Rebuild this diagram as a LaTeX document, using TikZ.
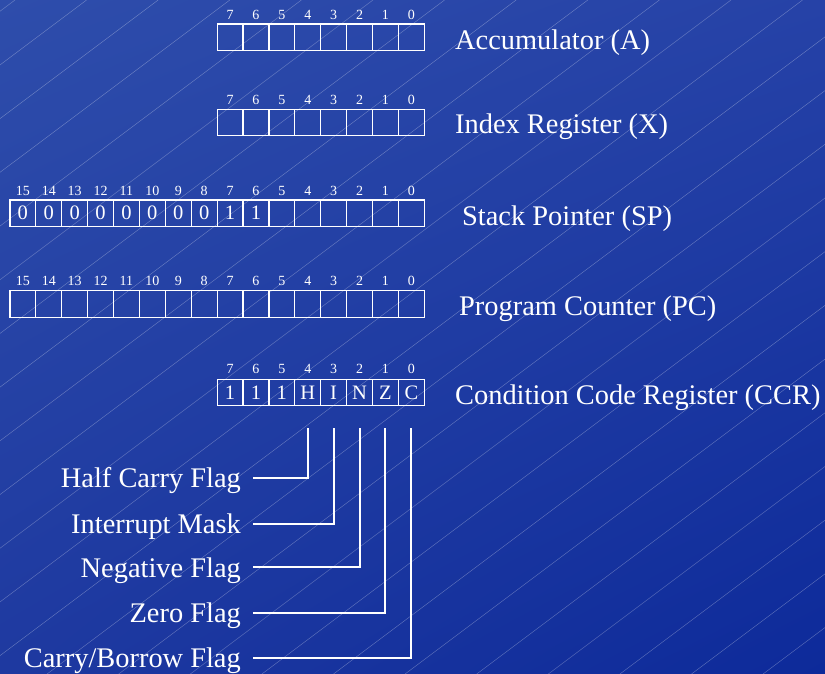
\documentclass[tikz,border=0pt]{standalone}
\usepackage{fontspec}
\setmainfont{Liberation Serif}
\usetikzlibrary{calc,shadings}
\definecolor{bgTL}{RGB}{46,77,171}
\definecolor{bgTR}{RGB}{38,66,167}
\definecolor{bgBL}{RGB}{30,57,160}
\definecolor{bgBR}{RGB}{13,42,154}
\tikzset{
  cell/.style={draw=white, line width=1.2pt, minimum width=25.9pt, minimum height=26.3pt, inner sep=0pt, font=\fontsize{20.5}{20.5}\selectfont, text=white},
  bitnum/.style={font=\fontsize{14}{14}\selectfont, text=white, inner sep=0pt},
  reglabel/.style={font=\fontsize{28.4}{30}\selectfont, text=white, anchor=base west, inner sep=0pt},
  flaglabel/.style={font=\fontsize{28.4}{30}\selectfont, text=white, anchor=base east, inner sep=0pt},
  wire/.style={draw=white, line width=2pt},
  diag/.style={draw=white, draw opacity=0.3, line width=0.45pt}
}
\begin{document}
\begin{tikzpicture}[x=1pt,y=-1pt]
\useasboundingbox (0,0) rectangle (825,674);
\shade[upper left=bgTL, upper right=bgTR, lower left=bgBL, lower right=bgBR] (0,0) rectangle (825,674);
\begin{scope}
  \clip (0,0) rectangle (825,674);
  \foreach \k in {0,...,24}
    \draw[diag] ({15+71.6*\k},0) -- ({15+71.6*\k-898.7},674);
\end{scope}
% Accumulator
\foreach \i in {0,...,7} {
  \node[cell] (A\i) at ({424.3-25.9*(\i+0.5)},37.15) {};
  \node[bitnum] (An\i) at ({424.3-25.9*(\i+0.5)},14.5) {\i};
}
\node[reglabel] (Alab) at (455,49.5) {Accumulator (A)};
% Index register
\foreach \i in {0,...,7} {
  \node[cell] (X\i) at ({424.3-25.9*(\i+0.5)},122.5) {};
  \node[bitnum] (Xn\i) at ({424.3-25.9*(\i+0.5)},100) {\i};
}
\node[reglabel] (Xlab) at (455,134) {Index Register (X)};
% Stack pointer
\foreach \i/\t in {15/0,14/0,13/0,12/0,11/0,10/0,9/0,8/0,7/1,6/1,5/,4/,3/,2/,1/,0/} {
  \node[cell] (S\i) at ({424.3-25.9*(\i+0.5)},213.15) {\t};
  \node[bitnum] (Sn\i) at ({424.3-25.9*(\i+0.5)},191) {\i};
}
\node[reglabel] (Slab) at (462,225) {Stack Pointer (SP)};
% Program counter
\foreach \i in {0,...,15} {
  \node[cell] (P\i) at ({424.3-25.9*(\i+0.5)},304) {};
  \node[bitnum] (Pn\i) at ({424.3-25.9*(\i+0.5)},280.5) {\i};
}
\node[reglabel] (Plab) at (459,315) {Program Counter (PC)};
% CCR
\foreach \i/\t in {7/1,6/1,5/1,4/H,3/I,2/N,1/Z,0/C} {
  \node[cell] (C\i) at ({424.3-25.9*(\i+0.5)},392.5) {\t};
  \node[bitnum] (Cn\i) at ({424.3-25.9*(\i+0.5)},368.5) {\i};
}
\node[reglabel] (Clab) at (455,404.5) {Condition Code Register (CCR)};
% Flag labels
\node[flaglabel] (hf) at (241,487) {Half Carry Flag};
\node[flaglabel] (im) at (241,533) {Interrupt Mask};
\node[flaglabel] (nf) at (241,577) {Negative Flag};
\node[flaglabel] (zf) at (241,622) {Zero Flag};
\node[flaglabel] (cf) at (241,667) {Carry/Borrow Flag};
% connector ends
\coordinate (hfL) at (253,478);
\coordinate (imL) at (253,524);
\coordinate (nfL) at (253,567);
\coordinate (zfL) at (253,613);
\coordinate (cfL) at (253,658);
\coordinate (T4) at ($(C4)+(0,35.5)$);
\coordinate (T3) at ($(C3)+(0,35.5)$);
\coordinate (T2) at ($(C2)+(0,35.5)$);
\coordinate (T1) at ($(C1)+(0,35.5)$);
\coordinate (T0) at ($(C0)+(0,35.5)$);
\draw[wire] (hfL) -| (T4);
\draw[wire] (imL) -| (T3);
\draw[wire] (nfL) -| (T2);
\draw[wire] (zfL) -| (T1);
\draw[wire] (cfL) -| (T0);
\end{tikzpicture}
\end{document}
